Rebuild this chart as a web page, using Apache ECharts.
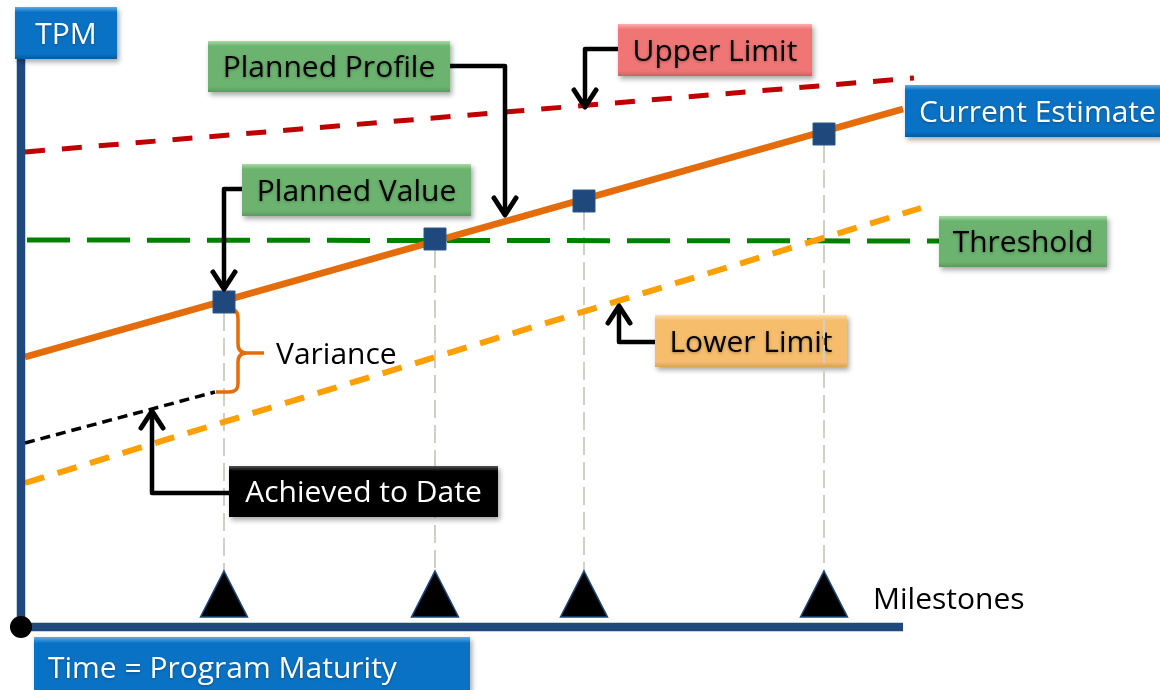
<!DOCTYPE html>
<html>
<head>
<meta charset="utf-8">
<title>TPM chart</title>
<script src="https://cdn.jsdelivr.net/npm/echarts@6/dist/echarts.min.js"></script>
<style>
  html, body { margin: 0; padding: 0; background: #fff; }
  #chart { width: 1160px; height: 690px; }
</style>
</head>
<body>
<div id="chart"></div>
<script>
// values, in its own 1160 x 690 frame (x to the right, y downwards)
const milestoneX = [224, 435, 584, 824];
const plannedValueY = [302, 239, 201, 134];
const milestoneY = 594;

const currentEstimate = [[25, 357], [903, 109]];
const upperLimit = [[25, 152], [914, 78]];
const lowerLimit = [[25, 483], [921, 208]];
const threshold = [[27, 240], [939, 241]];
const achievedToDate = [[25, 443], [215, 392]];

const tpmAxis = [[21, 58], [21, 627]];
const timeAxis = [[21, 627], [903, 627]];
const origin = [[21, 627]];

// callout boxes: [x0, y0, x1, y1]
const callouts = [
  { text: "TPM", box: [15, 7, 117, 59], kind: "blue" },
  { text: "Planned Profile", box: [208, 41, 450, 92], kind: "green" },
  { text: "Upper Limit", box: [618, 24, 812, 76], kind: "red" },
  { text: "Current Estimate", box: [905, 85, 1170, 137], kind: "blue" },
  { text: "Planned Value", box: [242, 164, 471, 216], kind: "green" },
  { text: "Threshold", box: [939, 216, 1107, 267], kind: "green" },
  { text: "Lower Limit", box: [655, 315, 847, 367], kind: "orange", under: true },
  { text: "Achieved to Date", box: [229, 466, 498, 517], kind: "black" },
  { text: "Time = Program Maturity", box: [34, 637, 470, 698], kind: "blue", align: "left" },
];

// callout arrows, last point is the tip
const arrows = [
  [[450, 66], [505, 66], [505, 215]],
  [[618, 49], [585, 49], [585, 107]],
  [[242, 189], [224, 189], [224, 289]],
  [[655, 342], [619, 342], [619, 306]],
  [[229, 493], [152, 493], [152, 411]],
];

const freeTexts = [
  { text: "Variance", at: [276, 355] },
  { text: "Milestones", at: [873, 600] },
];

const palette = {
  blue: ["#5aaef0", "#0a72c4", "#055a9c", "#ffffff"],
  green: ["#a8dba9", "#6cb36f", "#5a9a5d", "#000000"],
  red: ["#fab0b0", "#f07676", "#cf6060", "#000000"],
  orange: ["#fde0ae", "#f5bd6c", "#d9a256", "#000000"],
  black: ["#555555", "#000000", "#000000", "#ffffff"],
};

const FONT = "Open Sans";
const FONT_SIZE = 30;

const chart = echarts.init(document.getElementById("chart"), null, { renderer: "canvas" });

function dashedLine(name, data, color, width, dash, z) {
  return {
    name: name,
    type: "line",
    data: data,
    symbol: "none",
    z: z || 2,
    silent: true,
    lineStyle: { color: color, width: width, type: dash, cap: "butt" },
  };
}

function renderBox(params, api) {
  const c = callouts[api.value(4)];
  const pal = palette[c.kind];
  const p0 = api.coord([api.value(0), api.value(1)]);
  const p1 = api.coord([api.value(2), api.value(3)]);
  const w = p1[0] - p0[0];
  const h = p1[1] - p0[1];
  return {
    type: "group",
    children: [
      {
        type: "rect",
        shape: { x: p0[0], y: p0[1], width: w, height: h },
        style: {
          fill: new echarts.graphic.LinearGradient(0, 0, 0, 1, [
            { offset: 0, color: pal[0] },
            { offset: 0.1, color: pal[1] },
            { offset: 0.9, color: pal[1] },
            { offset: 1, color: pal[2] },
          ]),
          shadowBlur: 5,
          shadowOffsetX: 2,
          shadowOffsetY: 3,
          shadowColor: "rgba(0,0,0,0.35)",
        },
      },
      {
        type: "text",
        x: c.align === "left" ? p0[0] + 14 : p0[0] + w / 2,
        y: p0[1] + h / 2 + 2,
        style: {
          text: c.text,
          fill: pal[3],
          fontSize: FONT_SIZE,
          fontFamily: FONT,
          align: c.align || "center",
          verticalAlign: "middle",
          textShadowBlur: 3,
          textShadowColor: "rgba(0,0,0,0.3)",
          textShadowOffsetY: 1,
        },
      },
    ],
  };
}

function renderArrow(params, api) {
  const pts = arrows[params.dataIndex].map((p) => api.coord(p));
  const tip = pts[pts.length - 1];
  const prev = pts[pts.length - 2];
  const ang = Math.atan2(tip[1] - prev[1], tip[0] - prev[0]);
  const L = 17, W = 11;
  const bx = tip[0] - L * Math.cos(ang);
  const by = tip[1] - L * Math.sin(ang);
  const nx = -Math.sin(ang), ny = Math.cos(ang);
  const line = pts.slice(0, -1).concat([[tip[0] - 3 * Math.cos(ang), tip[1] - 3 * Math.sin(ang)]]);
  return {
    type: "group",
    children: [
      { type: "polyline", shape: { points: line }, style: { stroke: "#000", lineWidth: 4.5, fill: null, lineJoin: "round" } },
      {
        type: "polyline",
        shape: { points: [[bx + W * nx, by + W * ny], tip, [bx - W * nx, by - W * ny]] },
        style: { stroke: "#000", lineWidth: 5, fill: null, lineJoin: "round", lineCap: "round" },
      },
    ],
  };
}

function renderBrace(params, api) {
  const c = (x, y) => api.coord([x, y]).join(" ");
  const d =
    "M" + c(229, 309) + " Q" + c(238, 309) + " " + c(238, 318) +
    " L" + c(238, 344) + " Q" + c(238, 353) + " " + c(247, 353) +
    " L" + c(264, 353) +
    " M" + c(247, 353) + " Q" + c(238, 353) + " " + c(238, 362) +
    " L" + c(238, 384) + " Q" + c(238, 392) + " " + c(229, 392) +
    " L" + c(216, 392);
  return {
    type: "path",
    shape: { pathData: d },
    style: { stroke: "#e46c0a", lineWidth: 3.5, fill: null },
  };
}

function renderGuide(params, api) {
  const top = api.coord([api.value(0), api.value(1) + 11]);
  const bottom = api.coord([api.value(0), milestoneY - 23]);
  return {
    type: "line",
    shape: { x1: top[0], y1: top[1], x2: bottom[0], y2: bottom[1] },
    style: { stroke: "#cfcfc6", lineWidth: 2, lineDash: [18, 7] },
  };
}

function renderText(params, api) {
  const t = freeTexts[params.dataIndex];
  const p = api.coord(t.at);
  return {
    type: "text",
    x: p[0],
    y: p[1],
    style: { text: t.text, fill: "#000", fontSize: FONT_SIZE, fontFamily: FONT, align: "left", verticalAlign: "middle" },
  };
}

function boxSeries(name, list, z) {
  return {
    type: "custom",
    name: name,
    z: z,
    silent: true,
    renderItem: renderBox,
    data: list.map((c) => c.box.concat([callouts.indexOf(c)])),
  };
}

const option = {
  animation: false,
  backgroundColor: "#ffffff",
  grid: { left: 0, right: 0, top: 0, bottom: 0 },
  xAxis: { type: "value", min: 0, max: 1160, show: false },
  yAxis: { type: "value", min: 0, max: 690, inverse: true, show: false },
  series: [
    boxSeries("callouts below", callouts.filter((c) => c.under), 1),
    {
      type: "custom",
      name: "guides",
      z: 1,
      silent: true,
      renderItem: renderGuide,
      data: milestoneX.map((x, i) => [x, plannedValueY[i]]),
    },
    dashedLine("Upper Limit", upperLimit, "#c00000", 5, [20, 17]),
    dashedLine("Threshold", threshold, "#008000", 5, [43, 17]),
    dashedLine("Lower Limit", lowerLimit, "#ffa000", 6, [20, 14]),
    dashedLine("Achieved to Date", achievedToDate, "#000000", 3.5, [10, 6]),
    dashedLine("Current Estimate", currentEstimate, "#e46c0a", 6.5, "solid", 3),
    dashedLine("TPM axis", tpmAxis, "#1f497d", 8.5, "solid", 4),
    dashedLine("Time axis", timeAxis, "#1f497d", 8.5, "solid", 4),
    {
      type: "custom",
      name: "variance",
      z: 3,
      silent: true,
      renderItem: renderBrace,
      data: [[238, 353]],
    },
    {
      type: "scatter",
      name: "Planned Value",
      z: 5,
      silent: true,
      symbol: "rect",
      symbolSize: 22,
      itemStyle: { color: "#1f497d", borderColor: "#2c5688", borderWidth: 1, opacity: 1 },
      data: milestoneX.map((x, i) => [x, plannedValueY[i]]),
    },
    {
      type: "scatter",
      name: "Milestones",
      z: 5,
      silent: true,
      symbol: "triangle",
      symbolSize: [47, 46],
      itemStyle: { color: "#000000", borderColor: "#1f497d", borderWidth: 1.5, opacity: 1 },
      data: milestoneX.map((x) => [x, milestoneY]),
    },
    {
      type: "scatter",
      name: "origin",
      z: 6,
      silent: true,
      symbol: "circle",
      symbolSize: 22,
      itemStyle: { color: "#000000", opacity: 1 },
      data: origin,
    },
    {
      type: "custom",
      name: "arrows",
      z: 6,
      silent: true,
      renderItem: renderArrow,
      data: arrows.map((a) => a[a.length - 1]),
    },
    boxSeries("callouts", callouts.filter((c) => !c.under), 7),
    {
      type: "custom",
      name: "texts",
      z: 7,
      silent: true,
      renderItem: renderText,
      data: freeTexts.map((t) => t.at),
    },
  ],
};

chart.setOption(option);
</script>
</body>
</html>
